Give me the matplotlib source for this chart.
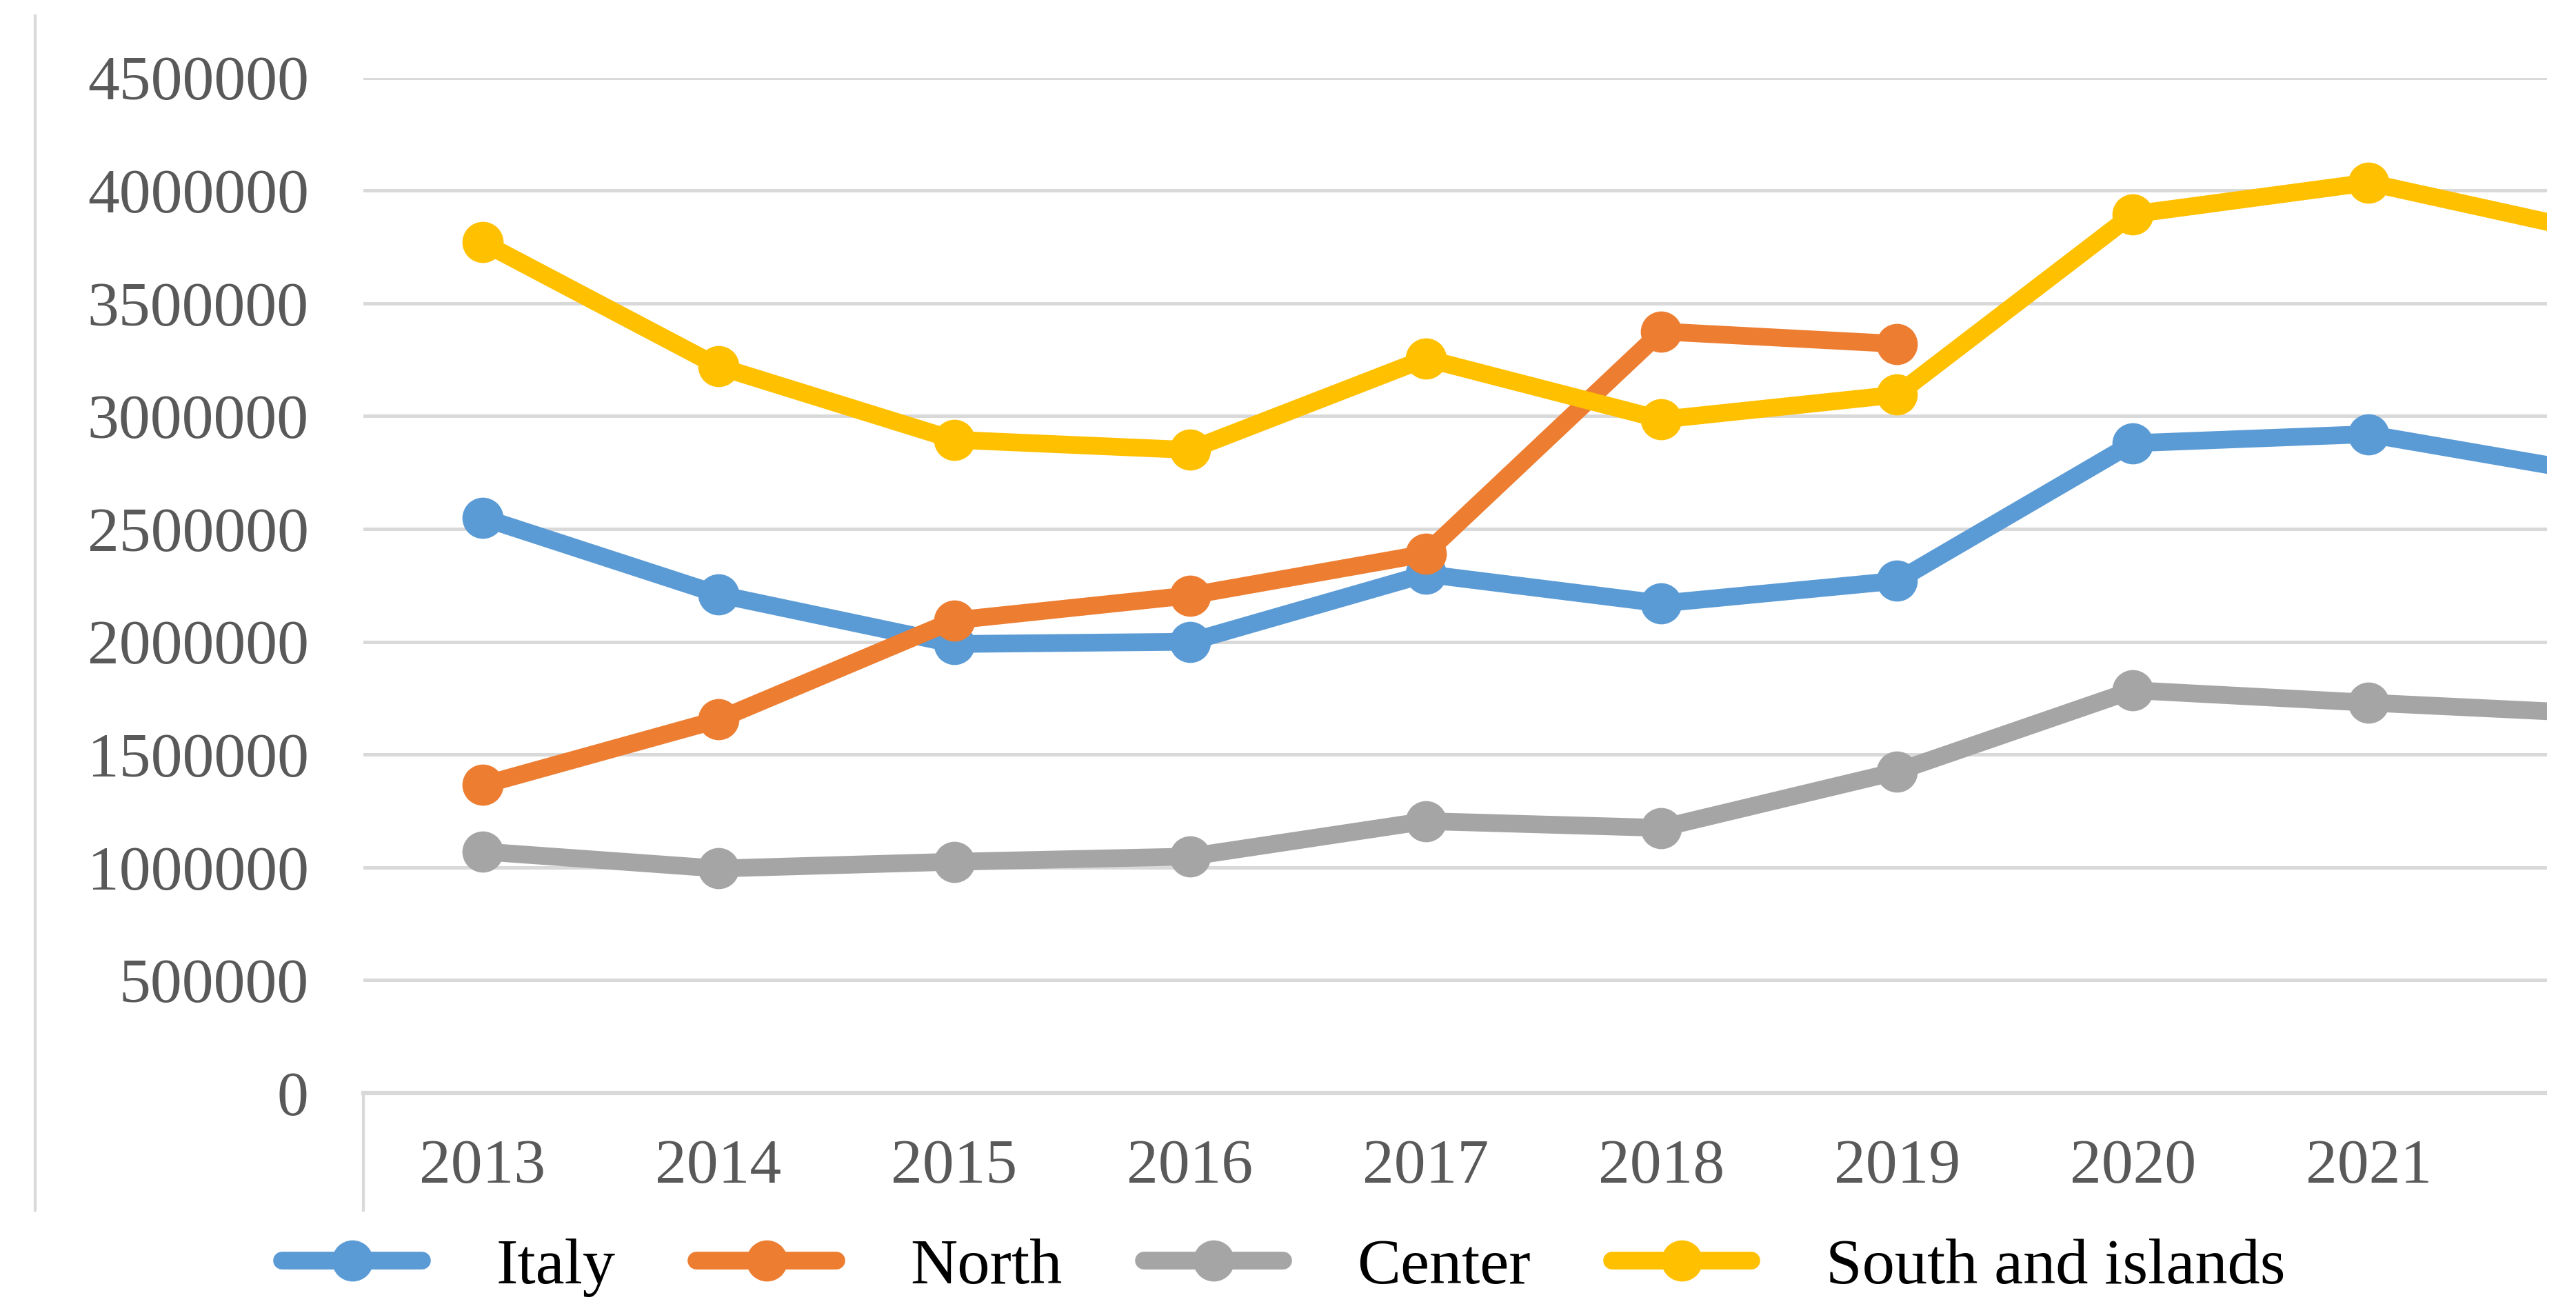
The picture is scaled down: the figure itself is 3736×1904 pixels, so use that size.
import numpy as np
import matplotlib
matplotlib.use("Agg")
import matplotlib.pyplot as plt
from matplotlib.lines import Line2D
from matplotlib.patches import Rectangle

# data
years = ['2013', '2014', '2015', '2016', '2017', '2018', '2019', '2020', '2021', '2022']
italy = [2550000, 2210000, 1990000, 2000000, 2300000, 2170000, 2270000, 2880000, 2920000, 2740000]
north = [1365000, 1655000, 2095000, 2205000, 2390000, 3375000, 3320000, np.nan, np.nan, np.nan]
center = [1070000, 995000, 1025000, 1048000, 1205000, 1175000, 1425000, 1785000, 1730000, 1680000]
south = [3770000, 3220000, 2895000, 2850000, 3255000, 2985000, 3095000, 3895000, 4035000, 3805000]
series_names = ['Italy', 'North', 'Center', 'South and islands']
yticks = [0, 500000, 1000000, 1500000, 2000000, 2500000, 3000000, 3500000, 4000000, 4500000]

colors = ['#5B9BD5', '#ED7D31', '#A5A5A5', '#FFC000']
grid_col = '#D9D9D9'

plt.rcParams['font.family'] = ['Liberation Serif', 'DejaVu Serif']

W, H = 3737, 1904
fig = plt.figure(figsize=(W / 100, H / 100), dpi=100)
ax = fig.add_axes([527 / W, 1 - 1585 / H, (3694 - 527) / W, (1585 - 112.6) / H])

x = np.arange(len(years))
for vals, name, c in zip([italy, north, center, south], series_names, colors):
    ax.plot(x, vals, color=c, lw=18.5, marker='o', ms=42, label=name,
            solid_capstyle='round', solid_joinstyle='round', zorder=3)

ax.set_yticks(yticks)
ax.set_yticklabels([str(v) for v in yticks])
ax.set_xticks(x)
ax.set_xticklabels(years)
# limits after the ticks, the chart is cut off just before 2022
ax.set_xlim(-0.506, 8.757)
ax.set_ylim(0, 4500000)
ax.grid(axis='y', color=grid_col, lw=3.6, zorder=0)
ax.set_axisbelow(True)
for s in ['top', 'right', 'left']:
    ax.spines[s].set_visible(False)
ax.spines['bottom'].set_color(grid_col)
ax.spines['bottom'].set_linewidth(4.5)
ax.tick_params(axis='both', length=0, labelsize=66, labelcolor='#595959')
ax.tick_params(axis='y', pad=57)
ax.tick_params(axis='x', pad=48)

# chart-area border pieces visible in the crop
fig.add_artist(Line2D([51 / W, 51 / W], [1 - 23 / H, 1 - 1755 / H], color=grid_col, lw=3))
fig.add_artist(Line2D([527 / W, 527 / W], [1 - 1585 / H, 1 - 1755 / H], color=grid_col, lw=3))
# image is cut off on the right
fig.add_artist(Rectangle((3694 / W, 0), 1, 1, transform=fig.transFigure,
                         facecolor='white', edgecolor='none', zorder=10))

leg = fig.legend(loc='center', bbox_to_anchor=(1862 / W, 1 - 1838 / H), ncol=4,
                 frameon=False, fontsize=68, handlelength=2.14, handletextpad=1.14,
                 columnspacing=1.25, numpoints=1)

fig.savefig('out.png', dpi=100, facecolor='white')
